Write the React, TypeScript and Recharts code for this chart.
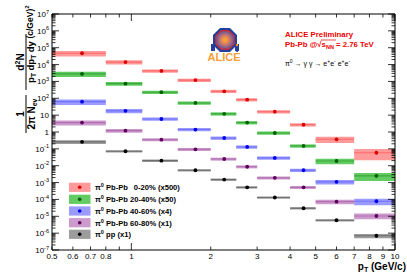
import React from "react";
import { ComposedChart, XAxis, YAxis, Scatter, ErrorBar, ReferenceArea } from "recharts";

// pT bins (GeV/c)
const ptCenter = [0.65, 0.95, 1.3, 1.75, 2.25, 2.75, 3.5, 4.5, 6, 8.5];
const ptLow = [0.5, 0.8, 1.1, 1.5, 2.0, 2.5, 3.0, 4.0, 5.0, 7.0];
const ptHigh = [0.8, 1.1, 1.5, 2.0, 2.5, 3.0, 4.0, 5.0, 7.0, 10.0];

// invariant yields, already scaled
const cent0020 = [4.7e4, 1.4e4, 4.2e3, 1.2e3, 260, 83, 16, 2.7, 0.37, 0.059];
const cent2040 = [2.8e3, 740, 230, 53, 12, 3.6, 0.87, 0.15, 0.019, 0.0025];
const cent4060 = [63, 18, 5.9, 1.4, 0.44, 0.13, 0.029, 0.0054, 0.0011, 7.8e-5];
const cent6080 = [3.6, 1.2, 0.35, 0.094, 0.025, 0.0087, 0.0019, 5.2e-4, 7.4e-5, 1.05e-5];
const ppRef = [0.26, 0.072, 0.02, 0.0054, 0.0015, 5.2e-4, 1.3e-4, 3e-5, 5.8e-6, 7e-7];

// relative systematic errors (boxes)
const sys0020 = [0.35, 0.27, 0.22, 0.22, 0.22, 0.22, 0.22, 0.22, 0.4, 0.64];
const sys2040 = [0.35, 0.26, 0.22, 0.22, 0.22, 0.22, 0.22, 0.22, 0.36, 0.5];
const sys4060 = [0.36, 0.27, 0.22, 0.22, 0.22, 0.22, 0.22, 0.22, 0.3, 0.43];
const sys6080 = [0.33, 0.24, 0.2, 0.2, 0.2, 0.2, 0.2, 0.2, 0.29, 0.37];
const sysPP = [0.25, 0.16, 0.16, 0.16, 0.16, 0.16, 0.16, 0.16, 0.15, 0.28];

// relative statistical errors
const statRel = [0.01, 0.01, 0.01, 0.01, 0.01, 0.02, 0.03, 0.05, 0.1, 0.22];

const xTickValues = [0.5, 0.6, 0.7, 0.8, 0.9, 1, 2, 3, 4, 5, 6, 7, 8, 9, 10];
const decades = [-7, -6, -5, -4, -3, -2, -1, 0, 1, 2, 3, 4, 5, 6, 7];

const yTicks: number[] = [];
decades.forEach((e) => {
  yTicks.push(Math.pow(10, e));
  if (e < 7) for (let m = 2; m <= 9; m++) yTicks.push(m * Math.pow(10, e));
});

const series = [
  { label: "Pb-Pb\u2002 0-20% (x500)", y: cent0020, sys: sys0020, box: "#ff9a9a", line: "#ff6868", dot: "#dd0000" },
  { label: "Pb-Pb 20-40% (x50)", y: cent2040, sys: sys2040, box: "#62cc62", line: "#3aa83a", dot: "#005f00" },
  { label: "Pb-Pb 40-60% (x4)", y: cent4060, sys: sys4060, box: "#9a9aff", line: "#7272ff", dot: "#0000ee" },
  { label: "Pb-Pb 60-80% (x1)", y: cent6080, sys: sys6080, box: "#cc9acc", line: "#b070b0", dot: "#5f005f" },
  { label: "pp (x1)", y: ppRef, sys: sysPP, box: "#9c9c9c", line: "#6e6e6e", dot: "#000000" },
];

const FONT = "'Liberation Sans', Arial, Helvetica, sans-serif";

const rows = series.map((s) =>
  ptCenter.map((x, i) => ({
    x,
    y: s.y[i],
    ex: [x - ptLow[i], ptHigh[i] - x],
    ey: [s.y[i] * statRel[i], s.y[i] * statRel[i]],
    x1: ptLow[i],
    x2: ptHigh[i],
    lo: s.y[i] * (1 - s.sys[i]),
    hi: s.y[i] * (1 + s.sys[i]),
  }))
);

const yTick = (side: "left" | "right") => (p: any) => {
  const v = p.payload.value;
  const lg = Math.log10(v);
  const e = Math.round(lg);
  const major = Math.abs(lg - e) < 1e-6;
  const dir = side === "left" ? 1 : -1;
  const len = major ? 7 : 3.5;
  return (
    <g>
      <line x1={p.x} x2={p.x + dir * len} y1={p.y} y2={p.y} stroke="#000" strokeWidth={0.8} />
      {side === "left" && major && (
        <text x={p.x - 3} y={p.y + 3} textAnchor="end" fontSize={8} fontFamily={FONT} fill="#000">
          {e === 0 ? "1" : e === 1 ? "10" : (
            <>
              10<tspan dy={-3.5} fontSize={5.5}>{e}</tspan>
            </>
          )}
        </text>
      )}
    </g>
  );
};

const xTick = (side: "bottom" | "top") => (p: any) => {
  const v = p.payload.value;
  const decade = v === 1 || v === 10;
  const dir = side === "bottom" ? -1 : 1;
  const len = decade ? 7 : 3.5;
  return (
    <g>
      <line x1={p.x} x2={p.x} y1={p.y} y2={p.y + dir * len} stroke="#000" strokeWidth={0.8} />
      {side === "bottom" && v !== 0.9 && (
        <text x={p.x} y={p.y + 8.5} textAnchor="middle" fontSize={8} fontFamily={FONT} fill="#000">
          {v}
        </text>
      )}
    </g>
  );
};

function Logo() {
  const cx = 225, cy = 40;
  const oct = (r: number) =>
    Array.from({ length: 8 }, (_, i) => {
      const a = ((22.5 + 45 * i) * Math.PI) / 180;
      return `${cx + r * Math.cos(a)},${cy + r * Math.sin(a)}`;
    }).join(" ");
  return (
    <g>
      <defs>
        <radialGradient id="aliceCore">
          <stop offset="0%" stopColor="#ffb020" />
          <stop offset="45%" stopColor="#e08060" />
          <stop offset="100%" stopColor="#6a5a9a" />
        </radialGradient>
      </defs>
      <polygon points={oct(13)} fill="#24409a" />
      <polygon points={oct(10.5)} fill="#e02a2a" />
      <polygon points={oct(9.3)} fill="url(#aliceCore)" />
      <rect x={cx - 14} y={cy + 4} width={4} height={7} fill="#24409a" />
      <rect x={cx + 10} y={cy + 4} width={4} height={7} fill="#24409a" />
      <circle cx={237} cy={45} r={1.2} fill="#f39c2a" />
      <rect x={236.3} y={47} width={1.6} height={5} fill="#24409a" />
      <text x={cx - 1} y={61} textAnchor="middle" fontSize={11} fontWeight="bold" fontFamily={FONT} fill="#f5a035">
        ALICE
      </text>
    </g>
  );
}

function Overlay() {
  const rowY = [187.3, 199.3, 211, 222.7, 234.3];
  return (
    <svg width={407} height={275} style={{ position: "absolute", left: 0, top: 0, pointerEvents: "none" }}>
      {/* y title */}
      <g transform="rotate(-90)" fontFamily={FONT} fontWeight="bold" fill="#000">
        <text x={-114} y={24} textAnchor="middle" fontSize={10}>1</text>
        <line x1={-133} x2={-95} y1={26} y2={26} stroke="#000" strokeWidth={1} />
        <text x={-114} y={35} textAnchor="middle" fontSize={10}>
          2π N<tspan dy={2} fontSize={7}>ev</tspan>
        </text>
        <text x={-62} y={24} textAnchor="middle" fontSize={10}>
          d<tspan dy={-4} fontSize={7}>2</tspan><tspan dy={4}>N</tspan>
        </text>
        <line x1={-90} x2={-34} y1={26} y2={26} stroke="#000" strokeWidth={1} />
        <text x={-62} y={34} textAnchor="middle" fontSize={9.5}>
          p<tspan dy={2} fontSize={6.5}>T</tspan><tspan dy={-2}> dp</tspan>
          <tspan dy={2} fontSize={6.5}>T</tspan><tspan dy={-2}> dy</tspan>
        </text>
        <text x={-22} y={33} textAnchor="middle" fontSize={8.5}>
          (c/GeV)<tspan dy={-4} fontSize={6}>2</tspan>
        </text>
      </g>
      {/* x title */}
      <text x={406} y={270} textAnchor="end" fontSize={10} fontWeight="bold" fontFamily={FONT} fill="#000">
        p<tspan dy={2} fontSize={7}>T</tspan><tspan dy={-2}> (GeV/c)</tspan>
      </text>
      {/* annotations */}
      <g fontFamily={FONT} fontWeight="bold" fill="#ee0000" fontSize={7.8}>
        <text x={285} y={37}>ALICE Preliminary</text>
        <text x={285} y={47}>
          Pb-Pb @√<tspan>s</tspan><tspan dy={2} fontSize={5.5}>NN</tspan><tspan dy={-2}> = 2.76 TeV</tspan>
        </text>
        <line x1={321} x2={336} y1={40} y2={40} stroke="#ee0000" strokeWidth={0.7} />
      </g>
      <text x={285} y={66} fontFamily={FONT} fontSize={7} fill="#000">
        π<tspan dy={-3} fontSize={5}>0</tspan><tspan dy={3}> → γ γ → e</tspan>
        <tspan dy={-3} fontSize={5}>+</tspan><tspan dy={3}>e</tspan><tspan dy={-3} fontSize={5}>-</tspan>
        <tspan dy={3}>  e</tspan><tspan dy={-3} fontSize={5}>+</tspan><tspan dy={3}>e</tspan>
        <tspan dy={-3} fontSize={5}>-</tspan>
      </text>
      <Logo />
      {/* legend */}
      {series.map((s, i) => (
        <g key={s.label}>
          <rect x={69} y={rowY[i] - 4.6} width={21.5} height={9.2} fill={s.box} />
          <circle cx={79.7} cy={rowY[i]} r={1.8} fill={s.dot} />
          <text x={95} y={rowY[i] + 3} fontSize={7.6} fontWeight="bold" fontFamily={FONT} fill="#000">
            π<tspan dy={-3} fontSize={5.5}>0</tspan><tspan dy={3}> {s.label}</tspan>
          </text>
        </g>
      ))}
    </svg>
  );
}

export default function App() {
  return (
    <div style={{ position: "absolute", left: 0, top: 0, width: 407, height: 275, background: "#fff" }}>
      <ComposedChart width={407} height={275} margin={{ top: 13, right: 11, bottom: 24, left: 51 }}>
        <XAxis
          dataKey="x"
          type="number"
          scale="log"
          domain={[0.5, 10]}
          allowDataOverflow
          ticks={xTickValues}
          interval={0}
          height={1}
          tickSize={0}
          tickMargin={0}
          tickLine={false}
          axisLine={{ stroke: "#000" }}
          tick={xTick("bottom")}
        />
        <XAxis
          xAxisId="top"
          orientation="top"
          dataKey="x"
          type="number"
          scale="log"
          domain={[0.5, 10]}
          allowDataOverflow
          ticks={xTickValues}
          interval={0}
          height={1}
          tickSize={0}
          tickMargin={0}
          tickLine={false}
          axisLine={{ stroke: "#000" }}
          tick={xTick("top")}
        />
        <YAxis
          dataKey="y"
          type="number"
          scale="log"
          domain={[1e-7, 1e7]}
          allowDataOverflow
          ticks={yTicks}
          interval={0}
          width={1}
          tickSize={0}
          tickMargin={0}
          tickLine={false}
          axisLine={{ stroke: "#000" }}
          tick={yTick("left")}
        />
        <YAxis
          yAxisId="right"
          orientation="right"
          dataKey="y"
          type="number"
          scale="log"
          domain={[1e-7, 1e7]}
          allowDataOverflow
          ticks={yTicks}
          interval={0}
          width={1}
          tickSize={0}
          tickMargin={0}
          tickLine={false}
          axisLine={{ stroke: "#000" }}
          tick={yTick("right")}
        />
        {series.map((s, si) =>
          rows[si].map((r, i) => (
            <ReferenceArea
              key={`box-${si}-${i}`}
              x1={r.x1}
              x2={r.x2}
              y1={r.lo}
              y2={r.hi}
              fill={s.box}
              fillOpacity={1}
              stroke="none"
            />
          ))
        )}
        {series.map((s, si) => (
          <Scatter
            key={s.label}
            data={rows[si]}
            dataKey="y"
            isAnimationActive={false}
            shape={(p: any) => <circle cx={p.cx} cy={p.cy} r={1.9} fill={s.dot} />}
          >
            <ErrorBar dataKey="ex" direction="x" width={0} stroke={s.line} strokeWidth={1.1} />
            <ErrorBar dataKey="ey" direction="y" width={0} stroke={s.dot} strokeWidth={1} />
          </Scatter>
        ))}
      </ComposedChart>
      <Overlay />
    </div>
  );
}
